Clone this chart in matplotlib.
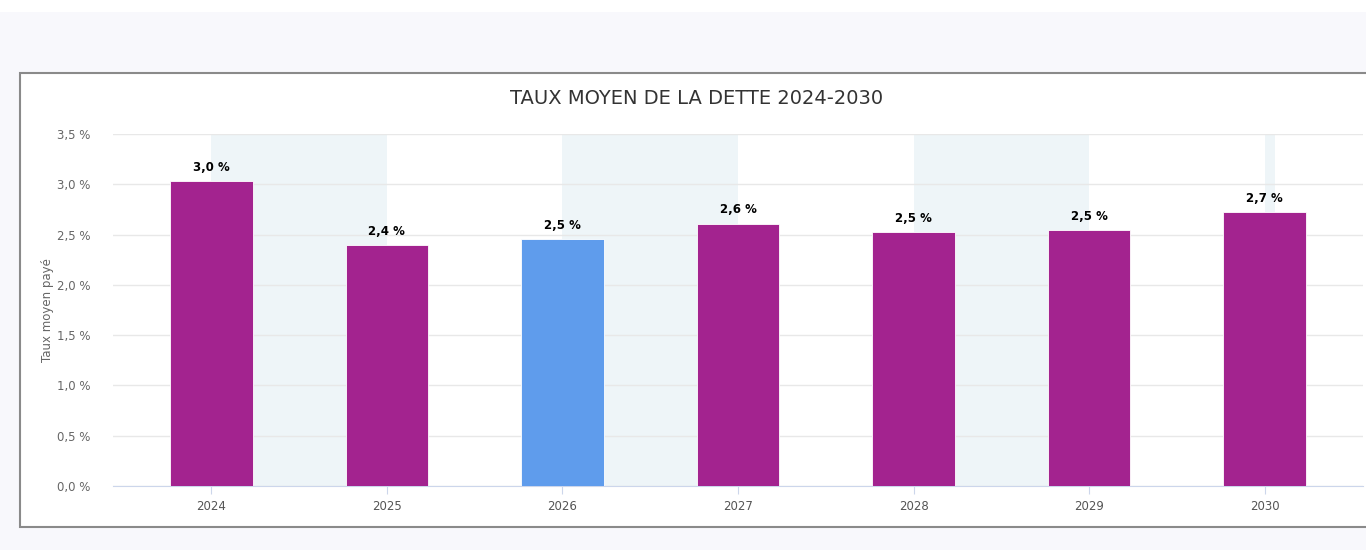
import matplotlib.pyplot as plt
from matplotlib.patches import Rectangle

# données
annees = ['2024', '2025', '2026', '2027', '2028', '2029', '2030']
taux = [3.03, 2.40, 2.46, 2.61, 2.53, 2.55, 2.72]
etiquettes = ['3,0 %', '2,4 %', '2,5 %', '2,6 %', '2,5 %', '2,5 %', '2,7 %']
couleurs = ['#a3238f', '#a3238f', '#5f9cec', '#a3238f', '#a3238f', '#a3238f', '#a3238f']
yticks = [0, 0.5, 1.0, 1.5, 2.0, 2.5, 3.0, 3.5]
ytick_labels = ['0,0 %', '0,5 %', '1,0 %', '1,5 %', '2,0 %', '2,5 %', '3,0 %', '3,5 %']

W, H = 1366, 550
fig = plt.figure(figsize=(W / 100, H / 100), dpi=100)
fig.patch.set_facecolor('#f8f8fc')

# bande blanche en haut et panneau blanc du graphique
fig.patches.append(Rectangle((0, 1 - 12 / H), 1, 12 / H, transform=fig.transFigure,
                             facecolor='white', edgecolor='none', zorder=-2))
fig.patches.append(Rectangle((20 / W, (H - 527) / H), 1.0, (527 - 73) / H,
                             transform=fig.transFigure, facecolor='white',
                             edgecolor='#8a8a8a', linewidth=1.5, zorder=-2))

ax = fig.add_axes([113 / W, (H - 486) / H, (1363 - 113) / W, (486 - 134) / H])
ax.set_zorder(2)
ax.set_facecolor('none')

x = list(range(len(annees)))

# bandes de fond alternées
for a, b in [(0, 1), (2, 3), (4, 5), (6, 6.06)]:
    ax.axvspan(a, b, color='#eef5f8', zorder=0, lw=0)

ax.bar(x, taux, width=0.47, color=couleurs, zorder=3, edgecolor='white', linewidth=0.6)

for xi, v, lab in zip(x, taux, etiquettes):
    ax.text(xi, v + 0.07, lab, ha='center', va='bottom', fontsize=8.5,
            fontweight='bold', color='black', zorder=4)

ax.set_xlim(-0.56, 6.56)
ax.set_ylim(0, 3.5)
ax.set_yticks(yticks)
ax.set_yticklabels(ytick_labels)
ax.set_xticks(x)
ax.set_xticklabels(annees)
ax.grid(axis='y', color='#e8e8e8', linewidth=1, zorder=1)
ax.set_axisbelow(True)

for s in ['top', 'right', 'left']:
    ax.spines[s].set_visible(False)
ax.spines['bottom'].set_color('#ccd6eb')
ax.tick_params(axis='y', length=0, pad=16, labelsize=8.5, labelcolor='#666666')
ax.tick_params(axis='x', length=6, color='#ccd6eb', pad=4, labelsize=8.5, labelcolor='#555555')

fig.text(47 / W, (H - 310) / H, 'Taux moyen payé', rotation=90, ha='center', va='center',
         fontsize=8.5, color='#666666')
fig.text(697 / W, (H - 98) / H, 'TAUX MOYEN DE LA DETTE 2024-2030', ha='center', va='center',
         fontsize=14, color='#333333')

fig.savefig('out.png', dpi=100, facecolor=fig.get_facecolor())
